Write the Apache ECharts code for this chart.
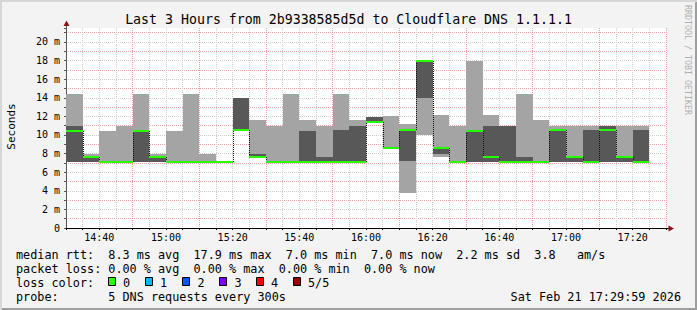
<!DOCTYPE html>
<html><head><meta charset="utf-8">
<script src="https://cdn.jsdelivr.net/npm/echarts@6/dist/echarts.min.js"></script>
<style>
html,body{margin:0;padding:0;background:#f3f3f3;}
#c{width:697px;height:310px;background:#f3f3f3;box-shadow:inset 2px 2px 0 #d6d6d6, inset -2px -2px 0 #9e9e9e;}
</style></head><body><div id="c"></div>
<script>
// 5-minute intervals, minutes since 14:30
const intervalStart = [0,5,10,15,20,25,30,35,40,45,50,55,60,65,70,75,80,85,90,95,100,105,110,115,120,125,130,135,140,145,150,155,160,165,170];
const stepMinutes = 5;
// sorted pings (ms) per interval: lowest, 2nd, median, 4th, highest
const pingLow  = [7.05,7.05,7.05,7.05,7.05,7.05,7.05,7.05,7.05,7.05,10.5,7.6,7.05,7.05,7.05,7.05,7.05,7.05,11.36,8.55,3.71,9.95,7.6,7.05,7.05,7.05,7.05,7.05,7.05,7.05,7.05,7.05,7.05,7.05,7.05];
const ping2    = [7.05,7.05,7.05,7.05,7.05,7.05,7.05,7.05,7.05,7.05,10.5,7.6,7.05,7.05,7.05,7.05,7.05,7.05,11.36,8.55,7.18,13.93,8.0,7.05,7.05,7.05,7.05,7.05,7.05,7.05,7.05,7.05,7.05,7.05,7.05];
const median   = [10.48,7.6,7.05,7.05,10.48,7.6,7.05,7.05,7.05,7.05,10.5,7.62,7.05,7.05,7.05,7.05,7.05,7.05,11.36,8.55,10.57,17.9,8.55,7.05,10.48,7.61,7.05,7.05,7.05,10.5,7.6,7.05,10.5,7.6,7.05];
const ping4    = [11.0,7.6,7.05,7.05,10.5,7.6,7.05,7.05,7.05,7.05,13.95,8.0,7.05,7.05,10.4,7.6,10.5,11.0,11.88,8.55,10.65,17.9,8.55,7.05,10.5,11.0,11.0,7.6,7.05,10.5,7.6,10.5,11.0,7.6,10.5];
const pingHigh = [14.45,8.0,10.4,11.0,14.45,8.0,10.48,14.45,8.0,7.05,13.95,11.6,11.0,14.45,11.6,11.0,14.45,11.57,11.88,12.03,11.13,17.9,12.1,11.0,17.9,12.1,11.0,14.45,11.6,11.0,11.0,11.0,11.0,11.0,11.0];

const xTickMinutes = [10,30,50,70,90,110,130,150,170];
const xTickLabels = ['14:40','15:00','15:20','15:40','16:00','16:20','16:40','17:00','17:20'];
const yTickValues = [0,2,4,6,8,10,12,14,16,18,20];
const yTickLabels = ['0','2 m','4 m','6 m','8 m','10 m','12 m','14 m','16 m','18 m','20 m'];

const titleText = 'Last 3 Hours from 2b9338585d5d to Cloudflare DNS 1.1.1.1';
const statsRow1 = [[0,'median rtt:'],[13,'8.3 ms avg'],[25,'17.9 ms max'],[38,'7.0 ms min'],[50,'7.0 ms now'],[62,'2.2 ms sd'],[73,'3.8'],[79,'am/s']];
const statsRow2 = [[0,'packet loss:'],[13,'0.00 % avg'],[25,'0.00 % max'],[37,'0.00 % min'],[49,'0.00 % now']];
const lossLabels = ['0','1','2','3','4','5/5'];
const lossColors = ['#26ff00','#00b8ff','#0059ff','#7e00ff','#ff0000','#a10000'];
const probeText = '5 DNS requests every 300s';
const dateText = 'Sat Feb 21 17:29:59 2026';

const MONO = '"DejaVu Sans Mono", monospace';
const data = intervalStart.map((s, i) => [s, s + stepMinutes, pingLow[i], ping2[i], median[i], ping4[i], pingHigh[i], i > 0 ? median[i-1] : median[i]]);

function renderItem(params, api) {
  const x0 = api.value(0), x1 = api.value(1);
  const L = Math.round(api.coord([x0, 0])[0]);
  const R = Math.round(api.coord([x1, 0])[0]);
  const Y = v => Math.round(api.coord([x0, v])[1]);
  const yLow = Y(api.value(2)), y2 = Y(api.value(3)), yMed = Y(api.value(4)), y4 = Y(api.value(5)), yHigh = Y(api.value(6)), yPrev = Y(api.value(7));
  const ch = [];
  if (yLow - yHigh > 0) ch.push({type:'rect', shape:{x:L, y:yHigh, width:R-L, height:yLow-yHigh}, style:{fill:'#a4a4a4'}});
  if (y2 - y4 > 0) ch.push({type:'rect', shape:{x:L, y:y4, width:R-L, height:y2-y4}, style:{fill:'#585858'}});
  if (yPrev !== yMed) ch.push({type:'line', shape:{x1:L+0.5, y1:yPrev, x2:L+0.5, y2:yMed}, style:{stroke:'#111', lineWidth:1, lineDash:[1,1]}});
  ch.push({type:'rect', shape:{x:L, y:yMed-1, width:R-L, height:2}, style:{fill:'#26ff00'}});
  return {type:'group', children: ch};
}

const gridL = 66, gridT = 28, gridW = 600, gridH = 200;
const graphics = [];
function txt(x, y, t, size, extra) {
  graphics.push(Object.assign({type:'text', x:x, y:y, silent:true, style:Object.assign({text:t, font:size+'px '+MONO, fill:'#000', verticalAlign:'middle'}, extra||{})}, {}));
}
// title
txt(348.5, 19.5, titleText, 13.25, {align:'center'});
// axis title
graphics.push({type:'text', x:11.5, y:126.5, rotation:Math.PI/2, style:{text:'Seconds', font:'11px '+MONO, fill:'#000', align:'center', verticalAlign:'middle'}});
// watermark
graphics.push({type:'text', x:687.5, y:60, rotation:-Math.PI/2, style:{text:'RRDTOOL / TOBI OETIKER', font:'8.3px '+MONO, fill:'#b0b0b0', align:'center', verticalAlign:'middle'}});
// axis extensions + arrows
graphics.push({type:'line', shape:{x1:gridL+0.5, y1:gridT, x2:gridL+0.5, y2:24}, style:{stroke:'#555', lineWidth:1}});
graphics.push({type:'polygon', shape:{points:[[gridL+0.5,20.5],[gridL-2.5,26],[gridL+3.5,26]]}, style:{fill:'#8b1414'}});
graphics.push({type:'line', shape:{x1:gridL+gridW, y1:gridT+gridH+0.5, x2:gridL+gridW+4, y2:gridT+gridH+0.5}, style:{stroke:'#000', lineWidth:1}});
graphics.push({type:'polygon', shape:{points:[[gridL+gridW+8,gridT+gridH+0.5],[gridL+gridW+2.5,gridT+gridH-2.5],[gridL+gridW+2.5,gridT+gridH+3.5]]}, style:{fill:'#8b1414'}});
// stats
const CW = 7.1, LX = 16;
statsRow1.forEach(([c,t]) => txt(LX + c*CW, 254.5, t, 11.8));
statsRow2.forEach(([c,t]) => txt(LX + c*CW, 268.5, t, 11.8));
txt(LX, 282.5, 'loss color:', 11.8);
const boxX = [108.5,145.5,182.5,219.5,256.5,293.5];
const boxLabelX = [123,160,197.5,234.5,271,308];
lossLabels.forEach((l, i) => {
  graphics.push({type:'rect', shape:{x:boxX[i], y:277.5, width:7, height:8}, style:{fill:lossColors[i], stroke:'#000', lineWidth:1}});
  txt(boxLabelX[i], 282.5, l, 11.8);
});
txt(LX, 296.5, 'probe:', 11.8);
txt(LX + 13*CW, 296.5, probeText, 11.8);
txt(681, 296.5, dateText, 11.8, {align:'right'});

const chart = echarts.init(document.getElementById('c'), null, {renderer:'svg'});
chart.setOption({
  animation:false,
  backgroundColor:'transparent',
  grid:{left:gridL, top:gridT, width:gridW, height:gridH, show:true, backgroundColor:'#ffffff', borderWidth:0},
  xAxis:{type:'value', min:0, max:180, interval:10,
    axisLine:{show:true, lineStyle:{color:'#000', width:1}},
    axisTick:{show:true, length:2, lineStyle:{color:'#000'}},
    minorTick:{show:true, splitNumber:2, length:2, lineStyle:{color:'#000'}},
    axisLabel:{show:true, margin:4, fontSize:10, fontFamily:MONO, color:'#000',
      formatter: v => { const k = xTickMinutes.indexOf(v); return k >= 0 ? xTickLabels[k] : ''; }},
    splitLine:{show:true, showMinLine:false, lineStyle:{color:['#cfcfcf','#f2a0a0'], type:[1,1], width:1}},
    minorSplitLine:{show:true, lineStyle:{color:'#cfcfcf', type:[1,1], width:1}}
  },
  yAxis:{type:'value', min:0, max:21.5, interval:1,
    axisLine:{show:true, lineStyle:{color:'#555', width:1}},
    axisTick:{show:true, length:2, lineStyle:{color:'#555'}},
    axisLabel:{show:true, margin:6, fontSize:10, fontFamily:MONO, color:'#000',
      formatter: v => { const k = yTickValues.indexOf(v); return k >= 0 ? yTickLabels[k] : ''; }},
    splitLine:{show:true, showMinLine:false, showMaxLine:false, lineStyle:{color:['#f2a0a0','#cfcfcf'], type:[1,1], width:1}}
  },
  series:[{type:'custom', renderItem:renderItem, data:data, encode:{x:[0,1], y:[2,6]}, clip:true, z:2, silent:true}],
  graphic: graphics
});
</script></body></html>
